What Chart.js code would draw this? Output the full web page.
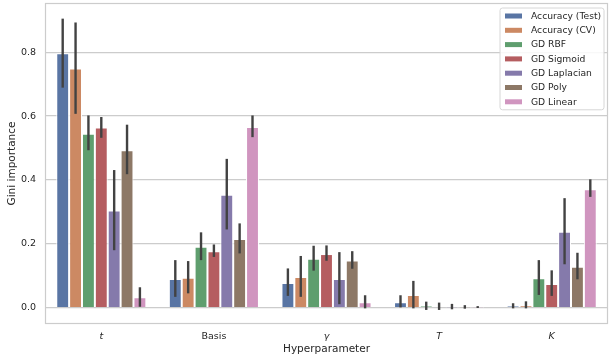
<!DOCTYPE html>
<html><head><meta charset="utf-8">
<script src="https://cdn.jsdelivr.net/npm/chart.js@4/dist/chart.umd.min.js"></script>
<style>html,body{margin:0;padding:0;background:#fff}</style>
</head><body>
<canvas id="c" width="610" height="360"></canvas>
<script>
// ---- data ----
const categories = ['t', 'Basis', 'γ', 'T', 'K'];
const seriesNames = ['Accuracy (Test)', 'Accuracy (CV)', 'GD RBF', 'GD Sigmoid', 'GD Laplacian', 'GD Poly', 'GD Linear'];
const yTicks = [0.0, 0.2, 0.4, 0.6, 0.8];

const accTest    = [0.797, 0.090, 0.077, 0.017, 0.005];
const accTestLo  = [0.689, 0.034, 0.037, 0.001, -0.002];
const accTestHi  = [0.905, 0.149, 0.123, 0.039, 0.014];

const accCV      = [0.749, 0.094, 0.096, 0.040, 0.008];
const accCVLo    = [0.607, 0.045, 0.034, -0.002, -0.002];
const accCVHi    = [0.893, 0.146, 0.162, 0.084, 0.020];

const gdRBF      = [0.545, 0.191, 0.153, 0.005, 0.092];
const gdRBFLo    = [0.493, 0.149, 0.116, -0.007, 0.040];
const gdRBFHi    = [0.602, 0.236, 0.194, 0.019, 0.149];

const gdSigmoid   = [0.564, 0.177, 0.168, 0.002, 0.074];
const gdSigmoidLo = [0.532, 0.159, 0.147, -0.007, 0.037];
const gdSigmoidHi = [0.597, 0.198, 0.195, 0.016, 0.117];

const gdLaplacian   = [0.304, 0.354, 0.090, 0.001, 0.238];
const gdLaplacianLo = [0.180, 0.245, 0.011, -0.005, 0.136];
const gdLaplacianHi = [0.431, 0.466, 0.174, 0.012, 0.343];

const gdPoly     = [0.493, 0.215, 0.148, 0.001, 0.128];
const gdPolyLo   = [0.418, 0.170, 0.122, -0.003, 0.089];
const gdPolyHi   = [0.573, 0.264, 0.177, 0.008, 0.172];

const gdLinear   = [0.033, 0.566, 0.017, 0.001, 0.371];
const gdLinearLo = [0.003, 0.534, -0.002, -0.001, 0.347];
const gdLinearHi = [0.064, 0.602, 0.039, 0.005, 0.402];

// ---- styles ----
const colors = ['#5975a4', '#cc8963', '#5f9e6e', '#b55d60', '#857aab', '#8d7866', '#d095bf'];
const values = [accTest, accCV, gdRBF, gdSigmoid, gdLaplacian, gdPoly, gdLinear];
const lows = [accTestLo, accCVLo, gdRBFLo, gdSigmoidLo, gdLaplacianLo, gdPolyLo, gdLinearLo];
const highs = [accTestHi, accCVHi, gdRBFHi, gdSigmoidHi, gdLaplacianHi, gdPolyHi, gdLinearHi];

const TEXT = '#262626';
const GRID = '#cccccc';
const FONT = '"DejaVu Sans", sans-serif';

const datasets = seriesNames.map((name, i) => ({
  label: name,
  data: values[i],
  backgroundColor: colors[i],
  borderColor: '#ffffff',
  borderWidth: 1,
  categoryPercentage: 0.8,
  barPercentage: 1.0,
  errLow: lows[i],
  errHigh: highs[i]
}));

const errorBarPlugin = {
  id: 'errorBars',
  afterDatasetsDraw(chart) {
    const ctx = chart.ctx;
    const yScale = chart.scales.y;
    ctx.save();
    ctx.strokeStyle = '#424242';
    ctx.lineWidth = 2.4;
    ctx.lineCap = 'butt';
    chart.data.datasets.forEach((ds, i) => {
      const meta = chart.getDatasetMeta(i);
      meta.data.forEach((el, j) => {
        const y1 = yScale.getPixelForValue(ds.errLow[j]);
        const y2 = yScale.getPixelForValue(ds.errHigh[j]);
        ctx.beginPath();
        ctx.moveTo(el.x, y1);
        ctx.lineTo(el.x, y2);
        ctx.stroke();
      });
    });
    ctx.restore();
  }
};

const framePlugin = {
  id: 'frame',
  afterDatasetsDraw(chart) {
    const a = chart.chartArea;
    const ctx = chart.ctx;
    ctx.save();
    ctx.strokeStyle = GRID;
    ctx.lineWidth = 1.2;
    ctx.strokeRect(a.left + 0.5, a.top + 0.5, a.right - a.left - 1, a.bottom - a.top - 1);
    ctx.restore();
  }
};

const legendPlugin = {
  id: 'boxLegend',
  afterDraw(chart) {
    const a = chart.chartArea;
    const ctx = chart.ctx;
    const w = 104, rowH = 14.3, pad = 8;
    const n = chart.data.datasets.length;
    const h = (n - 1) * rowH + 2 * pad;
    const x0 = a.right - 4 - w, y0 = a.top + 5;
    ctx.save();
    ctx.beginPath();
    const r = 2.5;
    ctx.moveTo(x0 + r, y0);
    ctx.lineTo(x0 + w - r, y0);
    ctx.quadraticCurveTo(x0 + w, y0, x0 + w, y0 + r);
    ctx.lineTo(x0 + w, y0 + h - r);
    ctx.quadraticCurveTo(x0 + w, y0 + h, x0 + w - r, y0 + h);
    ctx.lineTo(x0 + r, y0 + h);
    ctx.quadraticCurveTo(x0, y0 + h, x0, y0 + h - r);
    ctx.lineTo(x0, y0 + r);
    ctx.quadraticCurveTo(x0, y0, x0 + r, y0);
    ctx.closePath();
    ctx.fillStyle = 'rgba(255,255,255,0.85)';
    ctx.fill();
    ctx.strokeStyle = '#d6d6d6';
    ctx.lineWidth = 1;
    ctx.stroke();
    ctx.font = '9.2px ' + FONT;
    ctx.textBaseline = 'middle';
    ctx.textAlign = 'left';
    chart.data.datasets.forEach((ds, i) => {
      const cy = y0 + pad + i * rowH;
      ctx.fillStyle = ds.backgroundColor;
      ctx.fillRect(x0 + 5, cy - 2.5, 17, 5);
      ctx.fillStyle = TEXT;
      ctx.fillText(ds.label, x0 + 31, cy + 0.5);
    });
    ctx.restore();
  }
};

new Chart(document.getElementById('c'), {
  type: 'bar',
  data: { labels: categories, datasets },
  options: {
    responsive: false,
    devicePixelRatio: 1,
    animation: false,
    events: [],
    layout: { padding: { left: 0, right: 2, top: 3, bottom: 0 } },
    plugins: { legend: { display: false }, tooltip: { enabled: false } },
    scales: {
      x: {
        grid: { display: false, drawTicks: false },
        border: { display: false },
        ticks: {
          color: TEXT,
          padding: 7,
          font: (ctx) => ({ family: FONT, size: 9.5, style: ctx.index === 1 ? 'normal' : 'italic' })
        },
        title: { display: true, text: 'Hyperparameter', color: TEXT, font: { family: FONT, size: 10.5 }, padding: { top: 0, bottom: 4 } },
        afterFit: (s) => { s.height = 36; s.paddingLeft = 0; s.paddingRight = 0; }
      },
      y: {
        min: -0.051,
        max: 0.954,
        grid: { color: GRID, lineWidth: 1.2, drawTicks: false },
        border: { display: false },
        afterBuildTicks: (s) => { s.ticks = yTicks.map(v => ({ value: v })); },
        ticks: {
          color: TEXT,
          padding: 9,
          font: { family: FONT, size: 9.5 },
          callback: (v) => Number(v).toFixed(1)
        },
        title: { display: true, text: 'Gini importance', color: TEXT, font: { family: FONT, size: 10.5 }, padding: { top: 6, bottom: 0 } },
        afterFit: (s) => { s.width = 45; s.paddingTop = 0; s.paddingBottom = 0; }
      }
    }
  },
  plugins: [errorBarPlugin, framePlugin, legendPlugin]
});
</script>
</body></html>
